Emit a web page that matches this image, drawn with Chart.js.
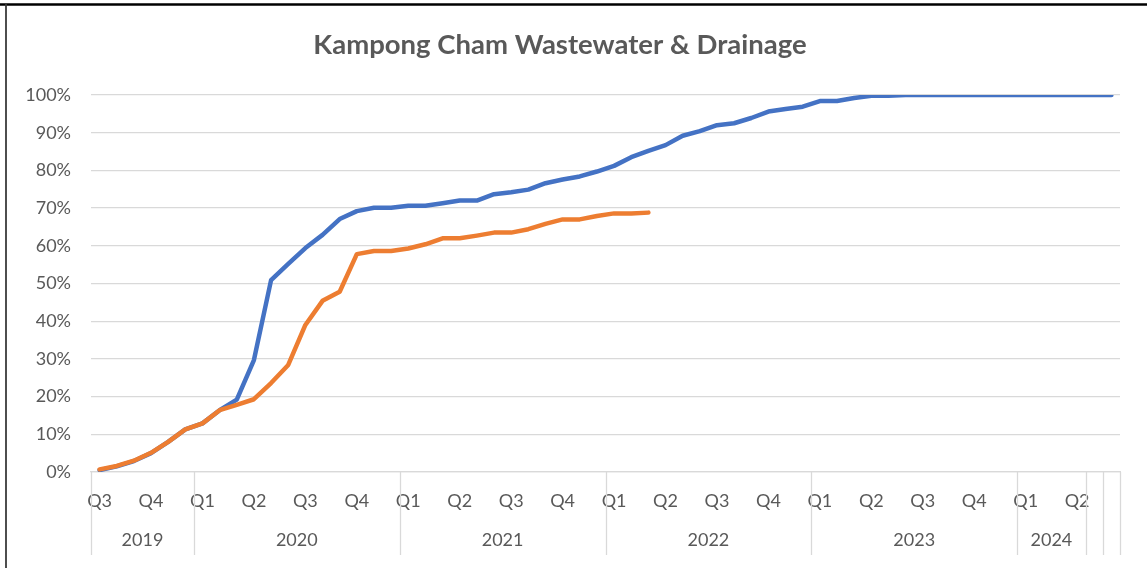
<!DOCTYPE html>
<html>
<head>
<meta charset="utf-8">
<script src="https://cdn.jsdelivr.net/npm/chart.js@4/dist/chart.umd.min.js"></script>
<style>
  html, body { margin: 0; padding: 0; background: #ffffff; }
  #wrap { width: 1147px; height: 568px; position: relative; }
</style>
</head>
<body>
<div id="wrap"><canvas id="c" width="1147" height="568"></canvas></div>
<script>
// ---- data ----
const quarterLabels = [
  'Q3','','','Q4','','',
  'Q1','','','Q2','','','Q3','','','Q4','','',
  'Q1','','','Q2','','','Q3','','','Q4','','',
  'Q1','','','Q2','','','Q3','','','Q4','','',
  'Q1','','','Q2','','','Q3','','','Q4','','',
  'Q1','','','Q2',
  '',''
];
const yearNames  = ['2019','2020','2021','2022','2023','2024','',''];
const yearMonths = [6, 12, 12, 12, 12, 4, 1, 1];

const planValues = [
  0.5, 1.5, 2.9, 5.0, 8.0, 11.3,
  12.9, 16.4, 19.2, 29.7, 50.9, 55.2, 59.4, 62.9, 67.1, 69.2, 70.1, 70.1,
  70.6, 70.6, 71.3, 72.0, 72.0, 73.7, 74.2, 74.9, 76.6, 77.6, 78.4, 79.7,
  81.2, 83.5, 85.2, 86.7, 89.2, 90.4, 92.0, 92.5, 93.9, 95.6, 96.3, 96.9,
  98.4, 98.4, 99.2, 99.8, 99.8, 100, 100, 100, 100, 100, 100, 100,
  100, 100, 100, 100,
  100, 100
];
const actualValues = [
  0.7, 1.6, 3.0, 5.1, 8.0, 11.3,
  12.9, 16.4, 17.8, 19.3, 23.6, 28.4, 39.0, 45.4, 47.8, 57.8, 58.6, 58.6,
  59.3, 60.4, 62.0, 62.0, 62.7, 63.5, 63.5, 64.4, 65.8, 67.0, 67.0, 67.9,
  68.6, 68.6, 68.8
];
const yTicks = [0, 10, 20, 30, 40, 50, 60, 70, 80, 90, 100];

const TEXT = '#595959';
const GRID = '#d9d9d9';
const FONT = 'Lato, "Open Sans", sans-serif';
const TICK_SIZE = 18;

// draws the second (year) level of the category axis and the frame
const yearRow = {
  id: 'yearRow',
  beforeDraw(chart) {
    const ctx = chart.ctx;
    ctx.save();
    ctx.fillStyle = '#ffffff';
    ctx.fillRect(0, 0, chart.width, chart.height);
    ctx.restore();
  },
  afterDraw(chart) {
    const ctx = chart.ctx;
    const xs = chart.scales.x;
    const base = chart.chartArea.bottom;
    ctx.save();
    ctx.strokeStyle = GRID;
    ctx.lineWidth = 1.3;
    ctx.fillStyle = TEXT;
    ctx.font = TICK_SIZE + 'px ' + FONT;
    ctx.textAlign = 'center';
    ctx.textBaseline = 'middle';
    let start = 0;
    const edges = [-0.5];
    yearMonths.forEach((n, i) => {
      const a = xs.getPixelForValue(start - 0.5);
      const b = xs.getPixelForValue(start + n - 0.5);
      if (yearNames[i]) ctx.fillText(yearNames[i], (a + b) / 2, base + 68);
      start += n;
      edges.push(start - 0.5);
    });
    edges.forEach(v => {
      const px = Math.round(xs.getPixelForValue(v)) + 0.5;
      ctx.beginPath();
      ctx.moveTo(px, base);
      ctx.lineTo(px, base + 83);
      ctx.stroke();
    });
    // outer frame (top and left)
    ctx.strokeStyle = '#000000';
    ctx.lineWidth = 2.4;
    ctx.beginPath();
    ctx.moveTo(0, 4.5);
    ctx.lineTo(chart.width, 4.5);
    ctx.stroke();
    ctx.strokeStyle = '#3a3a3a';
    ctx.lineWidth = 1.8;
    ctx.beginPath();
    ctx.moveTo(6, 4);
    ctx.lineTo(6, chart.height);
    ctx.stroke();
    ctx.restore();
  }
};

new Chart(document.getElementById('c'), {
  type: 'line',
  data: {
    labels: quarterLabels,
    datasets: [
      {
        label: 'Plan',
        data: planValues,
        borderColor: '#4472c4',
        backgroundColor: '#4472c4',
        borderWidth: 4.5,
        pointRadius: 0,
        tension: 0,
        borderJoinStyle: 'round',
        borderCapStyle: 'round',
        order: 1
      },
      {
        label: 'Actual',
        data: actualValues,
        borderColor: '#ed7d31',
        backgroundColor: '#ed7d31',
        borderWidth: 4.5,
        pointRadius: 0,
        tension: 0,
        borderJoinStyle: 'round',
        borderCapStyle: 'round',
        order: 0
      }
    ]
  },
  options: {
    responsive: false,
    animation: false,
    events: [],
    layout: { padding: { left: 0, right: 27, top: 0, bottom: 0 } },
    plugins: {
      legend: { display: false },
      tooltip: { enabled: false },
      title: {
        display: true,
        text: 'Kampong Cham Wastewater & Drainage',
        color: TEXT,
        font: { family: FONT, size: 27.5, weight: 'bold', lineHeight: 1.2 },
        padding: { top: 28.5, bottom: 33.5 }
      }
    },
    scales: {
      x: {
        type: 'category',
        offset: true,
        grid: { display: false, drawTicks: false },
        border: { display: true, color: GRID, width: 1.3 },
        ticks: {
          autoSkip: false,
          maxRotation: 0,
          minRotation: 0,
          color: TEXT,
          font: { family: FONT, size: TICK_SIZE },
          padding: 18
        },
        afterFit(scale) { scale.height = 96; }
      },
      y: {
        min: 0,
        max: 100,
        grid: { color: GRID, lineWidth: 1.3, drawTicks: false },
        border: { display: false },
        afterBuildTicks(scale) { scale.ticks = yTicks.map(v => ({ value: v })); },
        ticks: {
          color: TEXT,
          font: { family: FONT, size: TICK_SIZE },
          padding: 20,
          callback: v => v + '%'
        },
        afterFit(scale) { scale.width = 91; }
      }
    }
  },
  plugins: [yearRow]
});
</script>
</body>
</html>
